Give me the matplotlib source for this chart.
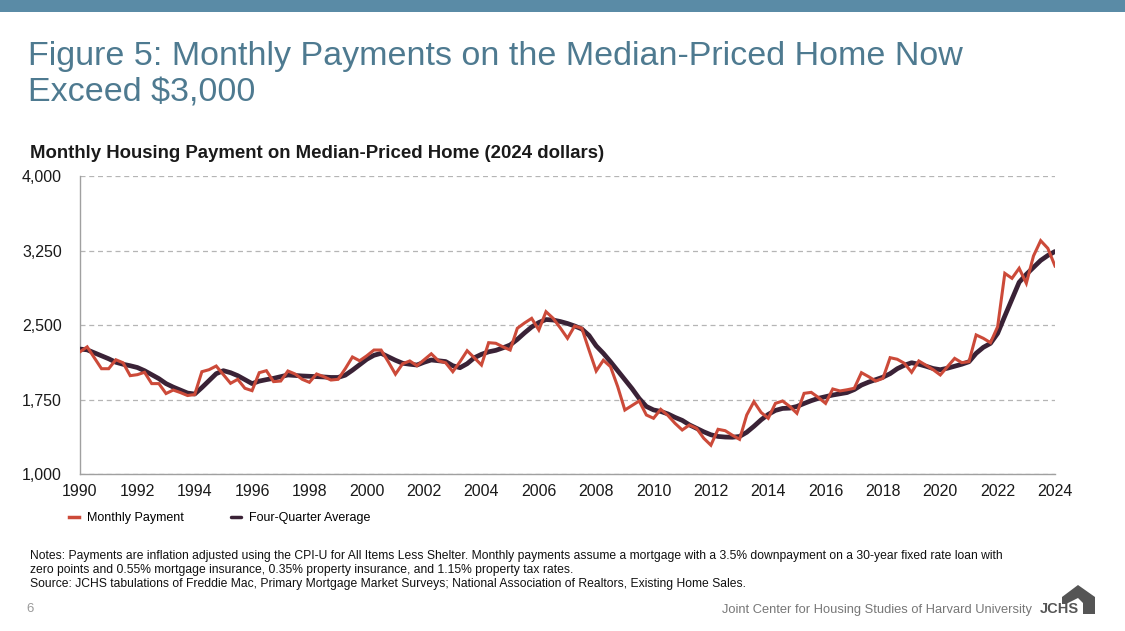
import matplotlib
matplotlib.use("Agg")
import matplotlib.pyplot as plt
from matplotlib.patches import Rectangle, Polygon

plt.rcParams['font.family'] = ['Liberation Sans', 'DejaVu Sans']

# ---------------- data (quarterly, 1990Q1 .. 2024Q1) ----------------
start_year = 1990
monthly_payment = [
    2230, 2280, 2170, 2060,   # 1990
    2060, 2150, 2120, 1990,   # 1991
    2000, 2024, 1910, 1910,   # 1992
    1810, 1845, 1820, 1790,   # 1993
    1800, 2030, 2050, 2087,   # 1994
    2000, 1913, 1953, 1863,   # 1995
    1839, 2020, 2040, 1930,   # 1996
    1936, 2037, 2007, 1953,   # 1997
    1923, 2007, 1980, 1946,   # 1998
    1953, 2060, 2178, 2140,   # 1999
    2190, 2248, 2248, 2130,   # 2000
    2005, 2110, 2138, 2090,   # 2001
    2150, 2210, 2140, 2120,   # 2002
    2030, 2130, 2241, 2170,   # 2003
    2097, 2322, 2316, 2280,   # 2004
    2248, 2467, 2520, 2567,   # 2005
    2450, 2634, 2567, 2470,   # 2006
    2366, 2490, 2467, 2248,   # 2007
    2037, 2145, 2080, 1880,   # 2008
    1644, 1690, 1735, 1594,   # 2009
    1561, 1651, 1590, 1510,   # 2010
    1443, 1493, 1460, 1360,   # 2011
    1290, 1450, 1436, 1390,   # 2012
    1349, 1594, 1728, 1620,   # 2013
    1561, 1711, 1735, 1680,   # 2014
    1611, 1812, 1822, 1770,   # 2015
    1711, 1856, 1836, 1848,   # 2016
    1863, 2020, 1980, 1936,   # 2017
    1963, 2171, 2155, 2114,   # 2018
    2024, 2138, 2095, 2050,   # 2019
    1997, 2080, 2164, 2121,   # 2020
    2131, 2400, 2366, 2322,   # 2021
    2483, 3020, 2970, 3071,   # 2022
    2920, 3195, 3349, 3272,   # 2023
    3094,                     # 2024
]
four_quarter_avg = [
    2258, 2250, 2220, 2190,
    2160, 2125, 2105, 2090,
    2072, 2040, 2000, 1960,
    1910, 1875, 1845, 1815,
    1805, 1870, 1940, 2010,
    2040, 2020, 1990, 1950,
    1910, 1935, 1950, 1963,
    1980, 1997, 1992, 1987,
    1984, 1980, 1977, 1972,
    1972, 1995, 2045, 2100,
    2155, 2195, 2215, 2180,
    2145, 2115, 2105, 2097,
    2125, 2148, 2140, 2132,
    2090, 2070, 2110, 2170,
    2205, 2230, 2245, 2270,
    2299, 2355, 2420, 2480,
    2525, 2555, 2550, 2535,
    2515, 2490, 2460, 2395,
    2290, 2215, 2130, 2040,
    1950, 1860, 1760, 1680,
    1645, 1630, 1605, 1570,
    1540, 1495, 1460, 1425,
    1395, 1378, 1372, 1370,
    1378, 1420, 1480, 1545,
    1600, 1640, 1660, 1663,
    1680, 1710, 1738, 1762,
    1778, 1795, 1807, 1820,
    1850, 1895, 1925, 1950,
    1975, 2010, 2060, 2095,
    2120, 2105, 2085, 2062,
    2050, 2065, 2085, 2105,
    2130, 2215, 2275, 2315,
    2416, 2590, 2760, 2930,
    3010, 3080, 3150, 3200,
    3240,
]
x_ticks = list(range(1990, 2025, 2))
y_ticks = [1000, 1750, 2500, 3250, 4000]
series_names = ["Monthly Payment", "Four-Quarter Average"]

title = "Figure 5: Monthly Payments on the Median-Priced Home Now\nExceed $3,000"
subtitle = "Monthly Housing Payment on Median-Priced Home (2024 dollars)"
notes = ("Notes: Payments are inflation adjusted using the CPI-U for All Items Less Shelter. Monthly payments assume a mortgage with a 3.5% downpayment on a 30-year fixed rate loan with\n"
         "zero points and 0.55% mortgage insurance, 0.35% property insurance, and 1.15% property tax rates.\n"
         "Source: JCHS tabulations of Freddie Mac, Primary Mortgage Market Surveys; National Association of Realtors, Existing Home Sales.")
footer = "Joint Center for Housing Studies of Harvard University"

quarters = [start_year + i / 4 for i in range(len(monthly_payment))]

# ---------------- figure ----------------
W, H = 1125, 631
fig = plt.figure(figsize=(W / 100, H / 100), dpi=100)
fig.patch.set_facecolor('white')

def fx(px):
    return px / W

def fy(py):
    return 1 - py / H

# top band
fig.patches.append(Rectangle((0, fy(12)), 1, 12 / H, transform=fig.transFigure,
                             facecolor='#5a8ba6', edgecolor='none'))

fig.text(fx(28), fy(101), title, fontsize=24.5, color='#4e7a90', ha='left',
         va='baseline', linespacing=1.2)
fig.text(fx(30), fy(158), subtitle, fontsize=13.4, fontweight='bold',
         color='#1a1a1a', ha='left', va='baseline')

ax = fig.add_axes([fx(80), fy(474), fx(1055) - fx(80), fy(176) - fy(474)])
line_avg, = ax.plot(quarters, four_quarter_avg, color='#3a2236', lw=3.4,
                    solid_capstyle='round', solid_joinstyle='round', zorder=3)
line_pay, = ax.plot(quarters, monthly_payment, color='#cc4a39', lw=2.2,
                    solid_joinstyle='miter', zorder=4)

ax.set_xlim(1990, 2024)
ax.set_ylim(1000, 4000)
ax.set_xticks(x_ticks)
ax.set_xticklabels([str(t) for t in x_ticks])
ax.set_yticks(y_ticks)
ax.set_yticklabels([f"{t:,}" for t in y_ticks])
ax.tick_params(axis='both', length=0, labelsize=11.5, colors='#1a1a1a')
ax.tick_params(axis='y', pad=13)
ax.tick_params(axis='x', pad=7)
ax.grid(axis='y', color='#b5b5b5', linestyle=(0, (4, 3)), lw=0.9)
ax.set_axisbelow(True)
for s in ['top', 'right']:
    ax.spines[s].set_visible(False)
for s in ['left', 'bottom']:
    ax.spines[s].set_color('#a0a0a0')
    ax.spines[s].set_linewidth(1.0)

leg = fig.legend([line_pay, line_avg], series_names, loc='center left',
                 bbox_to_anchor=(fx(58), fy(518)), ncol=2, frameon=False,
                 fontsize=9, handlelength=0.8, handletextpad=0.6,
                 columnspacing=3.8)
for h in leg.legend_handles:
    h.set_linewidth(2.5)

fig.text(fx(30), fy(587), notes, fontsize=8.75, color='#111111', ha='left',
         va='baseline', linespacing=1.24)

fig.text(fx(26), fy(612), "6", fontsize=9.5, color='#9a9a9a', ha='left',
         va='baseline')
fig.text(fx(1032), fy(613), footer, fontsize=9.3, color='#777777', ha='right',
         va='baseline')

# JCHS logo
fig.text(fx(1040), fy(613), "JCHS", fontsize=10.5, fontweight='bold',
         color='#555555', ha='left', va='baseline')
house = [(1062, 597), (1078, 585), (1095, 597), (1095, 614), (1083, 614),
         (1083, 603), (1078, 598), (1066, 604), (1062, 604)]
fig.patches.append(Polygon([(fx(x), fy(y)) for x, y in house], closed=True,
                           transform=fig.transFigure, facecolor='#555555',
                           edgecolor='none'))

fig.savefig("out.png", dpi=100)
